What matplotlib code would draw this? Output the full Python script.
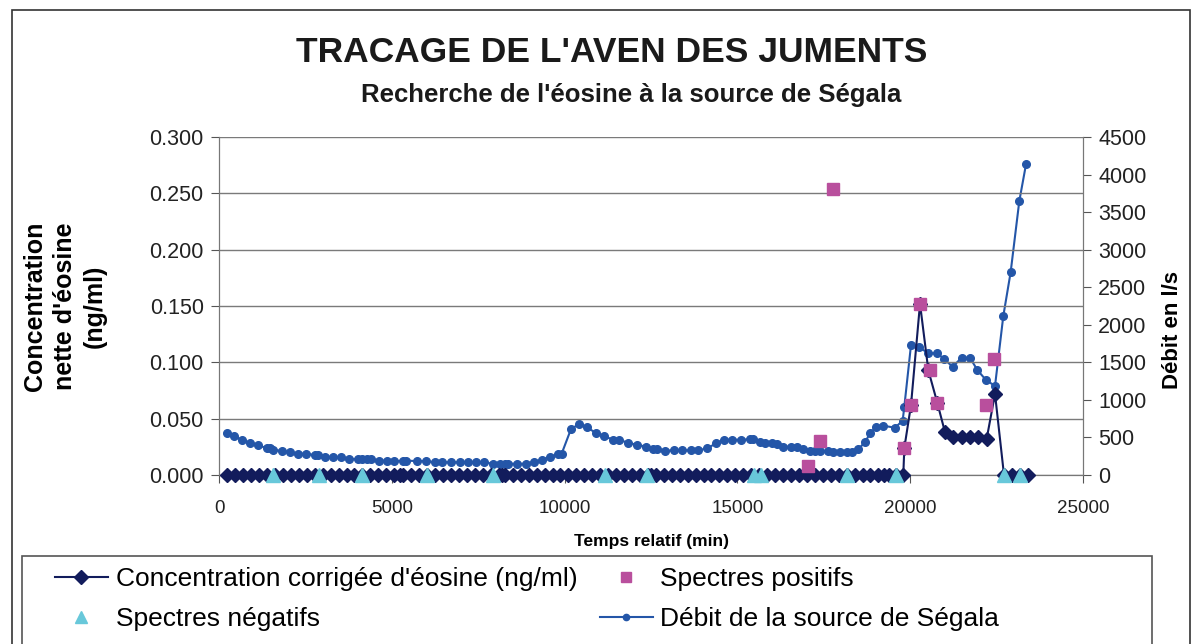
import numpy as np
import matplotlib.pyplot as plt
from matplotlib.lines import Line2D
from matplotlib.patches import Rectangle

plt.rcParams['font.family'] = ['Liberation Sans', 'DejaVu Sans']

## discharge of the Segala spring (time in min, flow in l/s)
flow_t = [240, 443, 656, 887, 1137, 1380, 1476, 1572, 1813, 2054, 2276, 2508,
          2778, 2875, 3067, 3308, 3530, 3771, 4031, 4127, 4272, 4389, 4630, 4852,
          5064, 5315, 5411, 5720, 5990, 6250, 6462, 6713, 6973, 7215, 7436, 7677,
          7919, 8131, 8276, 8372, 8632, 8883, 9124, 9336, 9577, 9818, 9915, 10185,
          10426, 10639, 10899, 11149, 11391, 11584, 11843, 12104, 12346, 12567, 12664,
          12905, 13166, 13406, 13657, 13869, 14129, 14381, 14612, 14835, 15100, 15365,
          15461, 15654, 15799, 15992, 16137, 16329, 16542, 16716, 16908, 17101, 17245,
          17390, 17612, 17775, 17969, 18162, 18307, 18499, 18692, 18837, 19010, 19222,
          19560, 19782, 19830, 20023, 20264, 20524, 20785, 20988, 21229, 21490, 21730,
          21942, 22193, 22454, 22694, 22906, 23157, 23351]
flow_q = [563, 519, 466, 430, 399, 355, 355, 333, 323, 302, 284, 284,
          266, 262, 244, 240, 240, 213, 213, 213, 213, 213, 191, 191,
          182, 191, 191, 186, 186, 169, 169, 169, 169, 169, 169, 169,
          150, 150, 150, 150, 150, 150, 177, 200, 244, 275, 284, 612,
          679, 635, 563, 519, 470, 470, 426, 403, 377, 350, 350,
          323, 328, 328, 328, 328, 355, 422, 470, 470, 470, 475,
          475, 443, 426, 426, 408, 377, 377, 377, 346, 323, 323,
          323, 315, 302, 302, 302, 302, 346, 435, 555, 635, 656,
          630, 723, 910, 1730, 1700, 1620, 1620, 1540, 1442, 1562, 1562,
          1398, 1265, 1185, 2117, 2698, 3647, 4136]

## corrected eosin concentration (ng/ml)
conc_t = [240, 470, 700, 930, 1160, 1390, 1620, 1850, 2080, 2310, 2540, 2770,
          3000, 3230, 3460, 3690, 3920, 4150, 4380, 4610, 4840, 5070, 5250, 5330,
          5560, 5790, 6020, 6250, 6480, 6710, 6940, 7170, 7400, 7630, 7860, 8090,
          8180, 8270, 8500, 8730, 8960, 9190, 9420, 9650, 9880, 10110, 10340, 10570,
          10800, 11030, 11260, 11490, 11720, 11950, 12180, 12410, 12500, 12640, 12870,
          13100, 13330, 13560, 13790, 14020, 14250, 14480, 14710, 14940, 15170, 15400,
          15630, 15860, 16090, 16320, 16550, 16780, 17010, 17240, 17470, 17700, 17930,
          18160, 18390, 18620, 18850, 19080, 19241, 19400, 19600, 19800,
          19830, 20023, 20284, 20524, 20785, 21007, 21248, 21490, 21730, 21970,
          22212, 22454, 22714, 22935, 23177, 23400]
conc_v = [0.0] * 90 + [0.024, 0.062, 0.152, 0.093, 0.064, 0.038, 0.034, 0.034,
                       0.034, 0.034, 0.032, 0.072, 0.0, 0.0, 0.0, 0.0]

## positive / negative spectra
pos_t = [17052, 17390, 17757, 19830, 20023, 20284, 20583, 20785, 22193, 22434]
pos_v = [0.008, 0.030, 0.254, 0.024, 0.062, 0.152, 0.093, 0.064, 0.062, 0.103]
neg_t = [1572, 2894, 4147, 6028, 7938, 11169, 12375, 15480, 15673, 18181,
         19589, 22714, 23177]
neg_v = [0.0] * len(neg_t)

navy = '#121c5c'
blue = '#2456a8'
magenta = '#b94f9d'
cyan = '#68c8da'

fig = plt.figure(figsize=(12.04, 6.44), dpi=100)
ax = fig.add_axes([0.1819, 0.2624, 0.7176, 0.5249])
ax2 = ax.twinx()

ax2.plot(flow_t, flow_q, color=blue, lw=1.5, marker='o', ms=5.5, mec=blue)
ax.plot(conc_t, conc_v, color=navy, lw=1.5, marker='D', ms=7.5, zorder=3, clip_on=False)
ax.plot(neg_t, neg_v, ls='none', marker='^', ms=10, color=cyan, zorder=4, clip_on=False)
ax.plot(pos_t, pos_v, ls='none', marker='s', ms=8, color=magenta, zorder=5)

ax.set_zorder(ax2.get_zorder() + 1)
ax.patch.set_visible(False)

ax.set_xlim(0, 25000)
ax.set_ylim(0, 0.3)
ax2.set_ylim(0, 4500)
ax.set_xticks(np.arange(0, 25001, 5000))
ax.set_yticks(np.arange(0, 0.301, 0.05))
ax.set_yticklabels(['%.3f' % v for v in np.arange(0, 0.301, 0.05)])
ax2.set_yticks(np.arange(0, 4501, 500))

ax.grid(axis='y', color='#7a7a7a', lw=1)
ax.set_axisbelow(True)
for a in (ax, ax2):
    a.spines['top'].set_visible(False)
    for s in ('left', 'right', 'bottom'):
        a.spines[s].set_color('#777777')
a_kw = dict(direction='out', length=6, color='#555555', labelcolor='#222222')
ax.tick_params(axis='y', labelsize=15.5, pad=5, **a_kw)
ax.tick_params(axis='x', labelsize=13.5, pad=12, **a_kw)
ax2.tick_params(axis='y', labelsize=15.5, pad=5, **a_kw)

ax.set_xlabel('Temps relatif (min)', fontsize=12.5, fontweight='bold', labelpad=12)
ax.set_ylabel("Concentration\nnette d'éosine\n(ng/ml)", fontsize=18, fontweight='bold',
              linespacing=1.3)
ax.yaxis.set_label_coords(-0.13, 0.5)
ax2.set_ylabel('Débit en l/s', fontsize=16, fontweight='bold')
ax2.yaxis.set_label_coords(1.092, 0.43)

fig.text(0.508, 0.918, "TRACAGE DE L'AVEN DES JUMENTS", ha='center', va='center',
         fontsize=25.5, fontweight='bold', color='#1a1a1a')
fig.text(0.524, 0.852, "Recherche de l'éosine à la source de Ségala", ha='center',
         va='center', fontsize=18.5, fontweight='bold', color='#1a1a1a')

# outer frame of the chart and frame of the legend
fig.patches.append(Rectangle((12 / 1204, -0.01), 1178 / 1204, 1 - 10 / 644 + 0.01,
                             transform=fig.transFigure, fill=False, ec='#333333', lw=1.2))
fig.patches.append(Rectangle((22 / 1204, -0.01), 1130 / 1204, 88 / 644 + 0.01,
                             transform=fig.transFigure, fill=False, ec='#555555', lw=1.2))

handles = [
    Line2D([], [], color=navy, marker='D', ms=7, lw=1.5),
    Line2D([], [], color=cyan, marker='^', ms=8, ls='none'),
    Line2D([], [], color=magenta, marker='s', ms=7, ls='none'),
    Line2D([], [], color=blue, marker='o', ms=4.5, lw=1.5),
]
labels = ["Concentration corrigée d'éosine (ng/ml)", 'Spectres négatifs',
          'Spectres positifs', 'Débit de la source de Ségala']
leg = fig.legend(handles, labels, ncol=2, loc='center left',
                 bbox_to_anchor=(55 / 1204, 45 / 644),
                 fontsize=19, frameon=False,
                 handlelength=2.0, handletextpad=0.3, borderaxespad=0.0,
                 labelspacing=0.6, columnspacing=0.85, borderpad=0.0)

fig.savefig('out.png', dpi=100)
